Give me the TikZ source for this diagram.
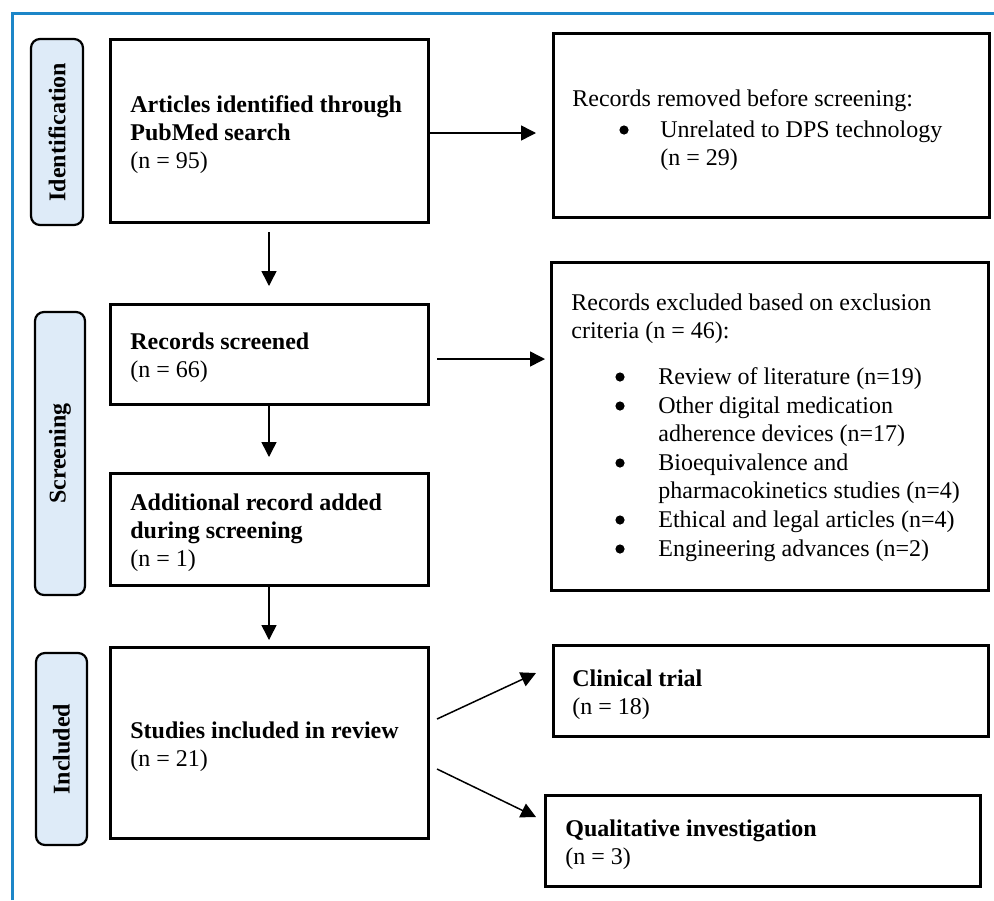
\documentclass[tikz,border=0pt]{standalone}
\usepackage{fontspec}
\setmainfont{Liberation Serif}
\usetikzlibrary{fit,arrows.meta}
\definecolor{frameblue}{RGB}{28,134,200}
\definecolor{pillblue}{RGB}{222,235,248}
\begin{document}
\begin{tikzpicture}[x=0.5pt,y=-0.5pt,
  box/.style={draw=black, line width=1.5pt, inner sep=0pt},
  pill/.style={draw=black, line width=1.1pt, fill=pillblue, rounded corners=4.5pt, inner sep=0pt},
  txt/.style={anchor=north west, inner sep=0pt, align=left, font=\fontsize{12}{14}\selectfont, yshift=-1pt},
  lbl/.style={rotate=90, inner sep=0pt, font=\fontsize{12}{14}\selectfont\bfseries},
  arr/.style={line width=0.75pt, -{Triangle[length=7.5pt,width=7.5pt]}},
  dot/.style={circle, fill=black, inner sep=0pt, minimum size=4.6pt}
]
\fill[white] (0,0) rectangle (994,900);
\useasboundingbox (0,0) rectangle (994,900);
\draw[frameblue, line width=1.5pt] (12,900) -- (12,13) -- (994,13);

% phase pills
\node[pill, fit={(31,39)(83,225)}] (p1) {};
\node[lbl] (p1t) at (p1.center) {Identification};
\node[pill, fit={(35,312)(85,595)}] (p2) {};
\node[lbl] (p2t) at (p2.center) {Screening};
\node[pill, fit={(36,653)(87,845)}] (p3) {};
\node[lbl] (p3t) at (p3.center) {Included};

% boxes
\node[box, fit={(110,39)(428,222)}] (b1) {};
\node[box, fit={(553,33)(989,217)}] (b2) {};
\node[box, fit={(110,304)(428,404)}] (b3) {};
\node[box, fit={(551,262)(988,590)}] (b4) {};
\node[box, fit={(110,473)(428,585)}] (b5) {};
\node[box, fit={(110,647)(428,838)}] (b6) {};
\node[box, fit={(553,645)(988,736)}] (b7) {};
\node[box, fit={(545,795)(980,886)}] (b8) {};

% texts
\node[txt] (t1) at (130,90) {\rule{0pt}{10pt}\textbf{Articles identified through}\\\textbf{PubMed search}\\(n = 95)};
\node[txt] (t2) at (572,84) {\rule{0pt}{10pt}Records removed before screening:};
\node[dot] (d2) at (624,130) {};
\node[txt] (t2i) at (660,115) {\rule{0pt}{10pt}Unrelated to DPS technology\\(n = 29)};
\node[txt] (t3) at (130,327) {\rule{0pt}{10pt}\textbf{Records screened}\\(n = 66)};
\node[txt] (t4) at (571,288) {\rule{0pt}{10pt}Records excluded based on exclusion\\criteria (n = 46):};
\node[dot] (d41) at (620,377) {};
\node[txt] (t41) at (658,362) {\rule{0pt}{10pt}Review of literature (n=19)};
\node[dot] (d42) at (620,406) {};
\node[txt] (t42) at (658,391) {\rule{0pt}{10pt}Other digital medication\\adherence devices (n=17)};
\node[dot] (d43) at (620,463) {};
\node[txt] (t43) at (658,448) {\rule{0pt}{10pt}Bioequivalence and\\pharmacokinetics studies (n=4)};
\node[dot] (d44) at (620,520) {};
\node[txt] (t44) at (658,505) {\rule{0pt}{10pt}Ethical and legal articles (n=4)};
\node[dot] (d45) at (620,549) {};
\node[txt] (t45) at (658,534) {\rule{0pt}{10pt}Engineering advances (n=2)};
\node[txt] (t5) at (130,488) {\rule{0pt}{10pt}\textbf{Additional record added}\\\textbf{during screening}\\(n = 1)};
\node[txt] (t6) at (130,716) {\rule{0pt}{10pt}\textbf{Studies included in review}\\(n = 21)};
\node[txt] (t7) at (572,664) {\rule{0pt}{10pt}\textbf{Clinical trial}\\(n = 18)};
\node[txt] (t8) at (565,814) {\rule{0pt}{10pt}\textbf{Qualitative investigation}\\(n = 3)};

% connectors
\coordinate (a1e) at (536,133);
\draw[arr] (b1.east |- a1e) -- (a1e);
\coordinate (a2s) at (437,359);
\coordinate (a2e) at (545,359);
\draw[arr] (a2s) -- (a2e);
\coordinate (d1s) at (269,232);
\coordinate (d1e) at (269,286);
\draw[arr] (d1s) -- (d1e);
\coordinate (d2e) at (268,457);
\draw[arr] (b3.south) -- (b3.south |- d2e);
\coordinate (d3e) at (266,640);
\draw[arr] (b5.south) -- (b5.south |- d3e);
\coordinate (c1s) at (437,719);
\coordinate (c1e) at (536,673);
\draw[arr] (c1s) -- (c1e);
\coordinate (c2s) at (437,769);
\coordinate (c2e) at (536,817);
\draw[arr] (c2s) -- (c2e);
\end{tikzpicture}
\end{document}
